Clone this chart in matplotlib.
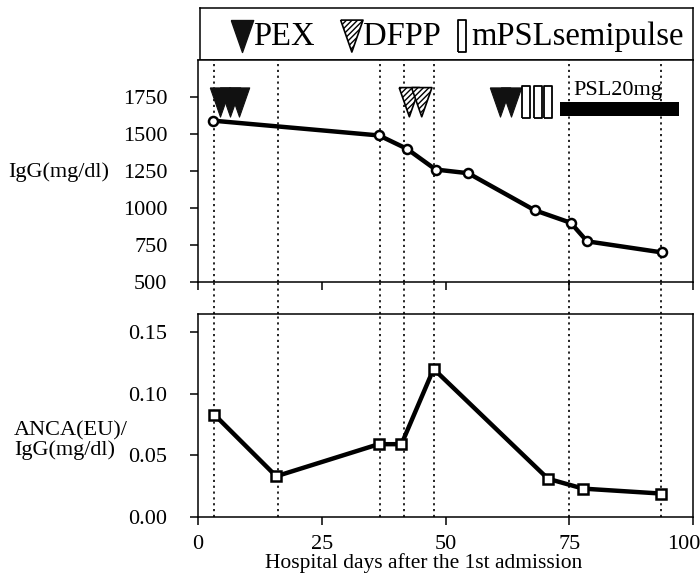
import matplotlib
matplotlib.use("Agg")
import matplotlib.pyplot as plt
from matplotlib.lines import Line2D
import matplotlib.transforms as mtransforms

plt.rcParams['font.family'] = ['Liberation Serif', 'DejaVu Serif']

# ---------------- data ----------------
igg_days = [3.1, 36.6, 42.2, 48.0, 54.6, 68.0, 75.3, 78.6, 93.7]
igg_vals = [1590, 1490, 1400, 1260, 1235, 985, 900, 775, 700]

anca_days = [3.3, 15.8, 36.5, 41.1, 47.6, 70.7, 77.8, 93.5]
anca_vals = [0.083, 0.033, 0.059, 0.059, 0.120, 0.031, 0.023, 0.019]

event_days = [3.3, 16.1, 36.7, 41.6, 47.7, 75.0, 93.6]

pex_days = [4.5, 6.4, 8.3, 61.0, 63.3]
dfpp_days = [42.7, 45.2]
mpsl_days = [66.3, 68.6, 70.8]
psl_start, psl_end = 73.2, 97.1
psl_label = "PSL20mg"

igg_ticks = [500, 750, 1000, 1250, 1500, 1750]
anca_ticks = [0.00, 0.05, 0.10, 0.15]
x_ticks = [0, 25, 50, 75, 100]

# ---------------- layout ----------------
W, H = 700, 578
fig = plt.figure(figsize=(7.0, 5.78), dpi=100)

def rect(l, t, r, b):
    return [l / W, 1 - b / H, (r - l) / W, (b - t) / H]

ax_leg = fig.add_axes(rect(200, 8, 693, 60))
ax1 = fig.add_axes(rect(198, 60, 693, 282))
ax2 = fig.add_axes(rect(198, 314, 693, 517))

TICK_FS = 16
tri = [(-0.7, 1), (0.7, 1), (0, -1), (-0.7, 1)]
box = [(-0.27, -1), (0.27, -1), (0.27, 1), (-0.27, 1), (-0.27, -1)]

dot = (0, (1.3, 2.2))

for ax in (ax1, ax2):
    ax.set_xlim(0, 100)
    ax.set_xticks(x_ticks)
    for sp in ax.spines.values():
        sp.set_linewidth(1.1)
    ax.tick_params(direction='out', length=6, width=1.1, labelsize=TICK_FS, pad=16)
    ax.tick_params(axis='x', pad=7)
    for d in event_days:
        ax.axvline(d, color='black', lw=1.2, ls=dot, zorder=1)

# gap lines between panels
trans = mtransforms.blended_transform_factory(ax2.transData, fig.transFigure)
for d in event_days:
    fig.add_artist(Line2D([d, d], [1 - 314 / H, 1 - 282 / H], transform=trans,
                          color='black', lw=1.2, ls=dot))

# top panel
ax1.set_ylim(500, 2000)
ax1.set_yticks(igg_ticks)
ax1.set_yticklabels([str(v) for v in igg_ticks])
ax1.set_xticklabels([])
ax1.plot(igg_days, igg_vals, color='black', lw=3.2, marker='o', ms=6.5,
         mfc='white', mec='black', mew=1.8, zorder=3)

y_mark = 1715
ax1.scatter(pex_days, [y_mark] * len(pex_days), marker=tri, s=21 ** 2,
            facecolor='#111111', edgecolor='#111111', linewidths=0.8, zorder=4)
ax1.scatter(dfpp_days, [y_mark] * len(dfpp_days), marker=tri, s=21 ** 2,
            facecolor='white', edgecolor='black', hatch='//////', linewidths=1.2, zorder=4)
ax1.scatter(mpsl_days, [y_mark] * len(mpsl_days), marker=box, s=22.5 ** 2,
            facecolor='white', edgecolor='black', linewidths=1.3, zorder=4)
ax1.barh(1669, psl_end - psl_start, left=psl_start, height=90, color='black', zorder=4)
ax1.text((psl_start + psl_end) / 2 - 0.3, 1728, psl_label, ha='center', va='bottom',
         fontsize=16, zorder=5)

# bottom panel
ax2.set_ylim(0, 0.1645)
ax2.set_yticks(anca_ticks)
ax2.set_yticklabels([f"{v:.2f}" for v in anca_ticks])
ax2.plot(anca_days, anca_vals, color='black', lw=3.2, marker='s', ms=7,
         mfc='white', mec='black', mew=1.8, zorder=3)

# last x tick label sits against the right edge, as in the reference
last = ax2.get_xticklabels()[-1]
last.set_horizontalalignment('right')
last.set_transform(last.get_transform() +
                   mtransforms.ScaledTranslation(7 / 100, 0, fig.dpi_scale_trans))

fig.text(265 / W, 1 - 563 / H, "Hospital days after the 1st admission",
         ha='left', va='center', fontsize=15.5)
fig.text(8 / W, 1 - 172 / H, "IgG(mg/dl)", ha='left', va='center', fontsize=16)
fig.text(14 / W, 1 - 441 / H, "ANCA(EU)/\nIgG(mg/dl)", ha='left', va='center',
         fontsize=16, linespacing=1.0)

# legend box
ax_leg.set_xlim(0, 1)
ax_leg.set_ylim(0, 1)
ax_leg.set_xticks([])
ax_leg.set_yticks([])
for sp in ax_leg.spines.values():
    sp.set_linewidth(1.1)
LEG_FS = 23.5
ax_leg.scatter([0.085], [0.46], marker=tri, s=23 ** 2, facecolor='#111111',
               edgecolor='#111111', transform=ax_leg.transAxes)
ax_leg.text(0.108, 0.45, "PEX", ha='left', va='center', fontsize=LEG_FS)
ax_leg.scatter([0.308], [0.46], marker=tri, s=23 ** 2, facecolor='white',
               edgecolor='black', hatch='//////', linewidths=1.2, transform=ax_leg.transAxes)
ax_leg.text(0.33, 0.45, "DFPP", ha='left', va='center', fontsize=LEG_FS)
ax_leg.scatter([0.531], [0.46], marker=box, s=23 ** 2, facecolor='white',
               edgecolor='black', linewidths=1.3, transform=ax_leg.transAxes)
ax_leg.text(0.55, 0.45, "mPSLsemipulse", ha='left', va='center', fontsize=LEG_FS)

fig.savefig("out.png", dpi=100)
